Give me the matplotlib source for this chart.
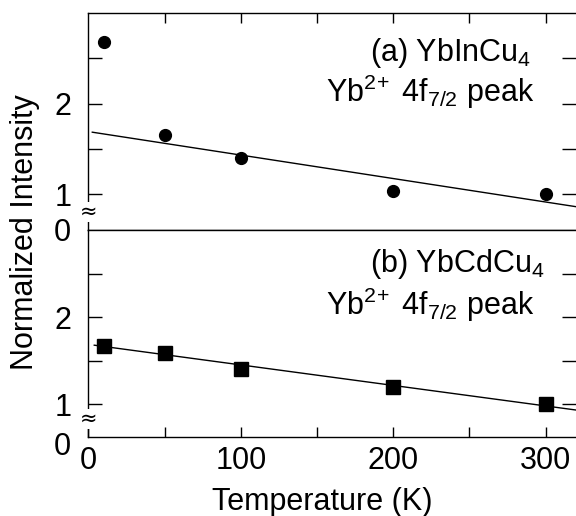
import numpy as np
import matplotlib
matplotlib.use("Agg")
from matplotlib import pyplot as plt
from matplotlib import transforms

plt.rcParams['font.family'] = ['Liberation Sans', 'DejaVu Sans']
plt.rcParams['mathtext.fontset'] = 'custom'
plt.rcParams['mathtext.rm'] = 'Liberation Sans'
plt.rcParams['mathtext.it'] = 'Liberation Sans'
plt.rcParams['mathtext.bf'] = 'Liberation Sans'

# data
temps = [10, 50, 100, 200, 300]
ybincu4 = [2.68, 1.65, 1.40, 1.04, 1.00]
ybcdcu4 = [1.67, 1.59, 1.41, 1.20, 1.00]

# linear fit lines (end points)
fit_t_a = [2.5, 320]
fit_a = [1.685, 0.863]
fit_t_b = [3.8, 320]
fit_b = [1.678, 0.934]

labels = [r'(a) YbInCu$_4$', r'(b) YbCdCu$_4$']
peak_label = r'Yb$^{2\!+}$ 4f$_{7/2}$ peak'

fig = plt.figure(figsize=(5.76, 5.16), dpi=100)
ax1 = fig.add_axes([0.1536, 0.5543, 0.8464, 0.4205])
ax2 = fig.add_axes([0.1536, 0.1537, 0.8464, 0.4006])

fs = 22

def style(ax, ylo, top_ticks, brk):
    ax.set_xlim(0, 320)
    ax.set_ylim(ylo, 3.0)
    ax.spines['right'].set_visible(False)
    for s in ax.spines.values():
        s.set_linewidth(1.0)
    ax.set_yticks([1, 1.5, 2, 2.5])
    ax.set_yticklabels(['1', '', '2', ''])
    ax.set_xticks([50, 100, 150, 200, 250, 300])
    ax.tick_params(axis='y', direction='in', length=10, width=1.0,
                   right=True, labelsize=fs, pad=12)
    ax.tick_params(axis='x', direction='in', length=7, width=1.0,
                   top=top_ticks, bottom=not top_ticks, labelsize=fs, pad=7)
    # broken axis mark
    tr = transforms.blended_transform_factory(ax.transAxes, ax.transData)
    ax.text(0, brk, '\u2248', transform=tr, ha='center', va='center',
            fontsize=15, family='DejaVu Sans', zorder=5,
            bbox=dict(boxstyle='square,pad=0', fc='white', ec='none'))

style(ax1, 0.606, True, 0.805)
style(ax2, 0.628, False, 0.831)
ax1.tick_params(axis='x', labelbottom=False)
ax2.set_xticks([0, 50, 100, 150, 200, 250, 300])
ax2.set_xticklabels(['0', '', '100', '', '200', '', '300'])

ax1.plot(temps, ybincu4, 'o', color='black', markersize=8.5)
ax1.plot(fit_t_a, fit_a, '-', color='black', linewidth=1.0)
ax2.plot(temps, ybcdcu4, 's', color='black', markersize=9.5)
ax2.plot(fit_t_b, fit_b, '-', color='black', linewidth=1.0)

ax1.text(-0.036, -0.014, '0', transform=ax1.transAxes, ha='right', va='center', fontsize=fs)
ax2.text(-0.036, -0.048, '0', transform=ax2.transAxes, ha='right', va='center', fontsize=fs)

ax1.text(0.578, 0.779, labels[0], transform=ax1.transAxes, ha='left', va='baseline', fontsize=fs)
ax1.text(0.914, 0.590, peak_label, transform=ax1.transAxes, ha='right', va='baseline', fontsize=fs)
ax2.text(0.578, 0.798, labels[1], transform=ax2.transAxes, ha='left', va='baseline', fontsize=fs)
ax2.text(0.914, 0.589, peak_label, transform=ax2.transAxes, ha='right', va='baseline', fontsize=fs)

fig.text(0.043, 0.55, 'Normalized Intensity', rotation=90, ha='center', va='center', fontsize=fs)
fig.text(0.560, 0.0116, 'Temperature (K)', ha='center', va='baseline', fontsize=fs)

fig.savefig('out.png', dpi=100)
